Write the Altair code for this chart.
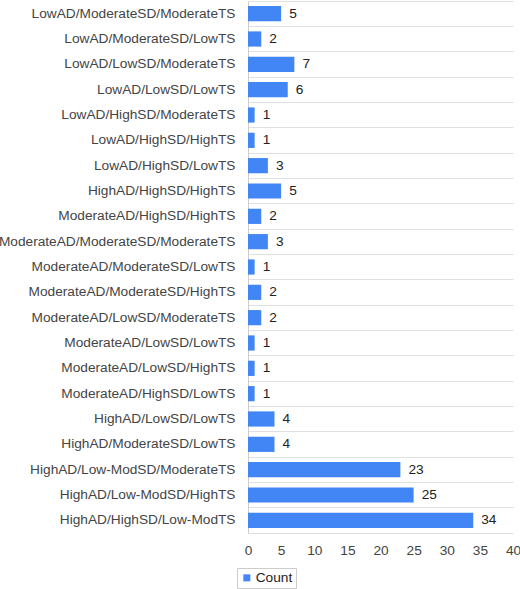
import altair as alt
import pandas as pd

categories = [
    "LowAD/ModerateSD/ModerateTS",
    "LowAD/ModerateSD/LowTS",
    "LowAD/LowSD/ModerateTS",
    "LowAD/LowSD/LowTS",
    "LowAD/HighSD/ModerateTS",
    "LowAD/HighSD/HighTS",
    "LowAD/HighSD/LowTS",
    "HighAD/HighSD/HighTS",
    "ModerateAD/HighSD/HighTS",
    "ModerateAD/ModerateSD/ModerateTS",
    "ModerateAD/ModerateSD/LowTS",
    "ModerateAD/ModerateSD/HighTS",
    "ModerateAD/LowSD/ModerateTS",
    "ModerateAD/LowSD/LowTS",
    "ModerateAD/LowSD/HighTS",
    "ModerateAD/HighSD/LowTS",
    "HighAD/LowSD/LowTS",
    "HighAD/ModerateSD/LowTS",
    "HighAD/Low-ModSD/ModerateTS",
    "HighAD/Low-ModSD/HighTS",
    "HighAD/HighSD/Low-ModTS",
]
counts = [5, 2, 7, 6, 1, 1, 3, 5, 2, 3, 1, 2, 2, 1, 1, 1, 4, 4, 23, 25, 34]
x_ticks = [0, 5, 10, 15, 20, 25, 30, 35, 40]
series_name = "Count"

df = pd.DataFrame({"category": categories, "count": counts, "series": series_name})

FONT = "Liberation Sans"
FS = 13.7

y_enc = alt.Y(
    "category:N",
    sort=categories,
    scale=alt.Scale(paddingInner=0, paddingOuter=0),
    axis=alt.Axis(
        title=None,
        grid=True,
        gridColor="#e0e0e0",
        bandPosition=0,
        ticks=False,
        tickSize=0,
        labelPadding=13,
        labelFont=FONT,
        labelFontSize=FS,
        labelColor="#444444",
        domainColor="#cccccc",
        labelLimit=300,
        labelOverlap=False,
    ),
)

x_enc = alt.X(
    "count:Q",
    scale=alt.Scale(domain=[0, 40], nice=False),
    axis=alt.Axis(
        title=None,
        values=x_ticks,
        tickCount=9,
        grid=False,
        ticks=False,
        tickSize=0,
        labelPadding=10,
        labelFont=FONT,
        labelFontSize=FS,
        labelColor="#444444",
        domainColor="#dddddd",
        labelOverlap=False,
        labelFlush=False,
        labelBound=False,
    ),
)

bars = alt.Chart(df).mark_bar(height={"band": 0.6}).encode(
    x=x_enc,
    y=y_enc,
    color=alt.Color(
        "series:N",
        scale=alt.Scale(range=["#4285F4"]),
        legend=alt.Legend(
            title=None,
            orient="none",
            legendX=-11,
            legendY=567,
            symbolType="square",
            symbolSize=49,
            symbolStrokeWidth=0,
            labelFont=FONT,
            labelFontSize=FS,
            labelColor="#222222",
            labelOffset=2,
            strokeColor="#cccccc",
            padding=3,
        ),
    ),
)

labels = alt.Chart(df).mark_text(
    align="left", baseline="middle", dx=8, font=FONT, fontSize=FS, color="#222222"
).encode(
    x=x_enc,
    y=y_enc,
    text="count:Q",
)

chart = (
    alt.layer(bars, labels)
    .properties(
        width=265,
        height=532,
        autosize=alt.AutoSizeParams(type="none"),
        padding={"left": 248, "top": 1, "right": 7, "bottom": 56},
    )
    .configure_view(stroke=None)
    .configure_axis(labelOverlap=False)
)

chart.save("out.html", embed_options={"renderer": "svg", "actions": False})
